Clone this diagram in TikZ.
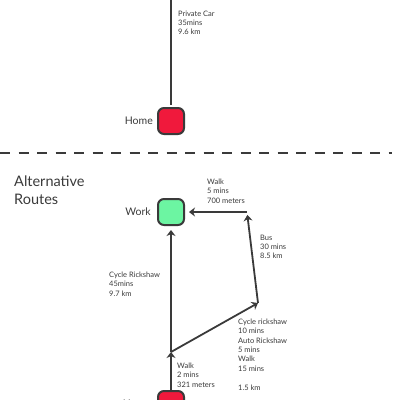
\documentclass[tikz,border=0pt]{standalone}
\usepackage{fontspec}
\setmainfont{Lato}
\usetikzlibrary{positioning,arrows.meta}
\definecolor{linegray}{HTML}{3A3A3A}
\definecolor{homered}{HTML}{F0193C}
\definecolor{workgreen}{HTML}{6CF5A2}

\begin{document}
\begin{tikzpicture}[x=1pt, y=-1pt, >={Stealth[length=6pt,width=9pt]},
    every node/.style={font=\fontsize{7.5}{9.4}\selectfont, text=linegray, inner sep=0pt},
    place/.style={draw=linegray, line width=2pt, rounded corners=6pt, minimum size=26pt},
    placelbl/.style={font=\fontsize{10.5}{12}\selectfont},
    route/.style={draw=linegray, line width=1.8pt},
    info/.style={anchor=north west, align=left}]
    \clip (0,0) rectangle (400,400);

    % current route
    \coordinate (carstart) at (171,-2);
    \node[place, fill=homered] (home1) at (171,121) {};
    \node[placelbl, left=4pt of home1] (home1lbl) {Home};
    \draw[route, shorten >=2pt] (carstart) -- (home1);
    \node[info] (carlbl) at (178,10.5) {Private Car\\35mins\\9.6 km};

    \coordinate (dashL) at (0,153);
    \coordinate (dashR) at (392,153);
    \draw[route, dash pattern=on 10pt off 8.5pt] (dashL) -- (dashR);

    % alternatives
    \node[anchor=north west, align=left, font=\fontsize{14.5}{18}\selectfont] (alttitle) at (14,175.5) {Alternative\\Routes};

    \node[place, fill=workgreen] (work) at (171,212) {};
    \node[placelbl, left=6pt of work] (worklbl) {Work};
    \node[place, fill=homered] (home2) at (171,404) {};
    \node[placelbl, left=6pt of home2] (home2lbl) {Home};

    \coordinate (jn1) at (171,352);
    \coordinate (jn2) at (258,303);
    \coordinate (bend) at (247,212);

    \draw[route, ->] (home2) -- (jn1);
    \draw[route, ->, shorten >=4pt] (jn1) -- (work);
    \draw[route, ->] (jn1) -- (jn2);
    \draw[route, ->, shorten >=3pt] (jn2) -- (bend);
    \draw[route, ->, shorten >=4pt] (bend) -- (work);

    \node[info] (walk1lbl) at (207,178.5) {Walk\\5 mins\\700 meters};
    \node[info] (buslbl) at (260,234.5) {Bus\\30 mins\\8.5 km};
    \node[info] (cyclelbl) at (109,271.5) {Cycle Rickshaw\\45mins\\9.7 km};
    \node[info] (walk2lbl) at (177,362.5) {Walk\\2 mins\\321 meters};
    \node[info] (mixlbl) at (238,318.5) {Cycle rickshaw\\10 mins\\Auto Rickshaw\\5 mins\\Walk\\15 mins\\[9.4pt]1.5 km};
\end{tikzpicture}
\end{document}
